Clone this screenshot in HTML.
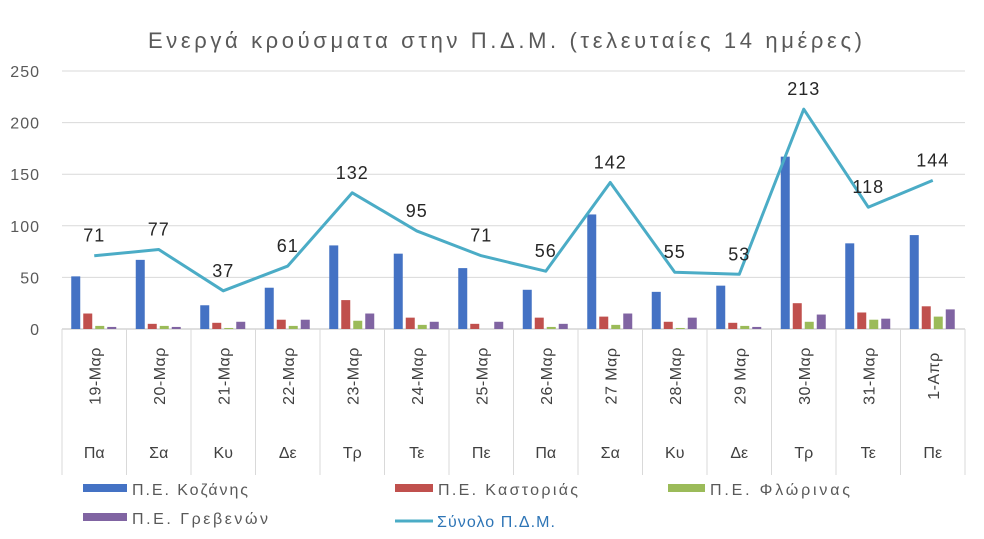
<!DOCTYPE html>
<html><head><meta charset="utf-8"><style>
body{margin:0;background:#fff;width:984px;height:534px;overflow:hidden;font-family:"Liberation Sans","DejaVu Sans",sans-serif;}
</style></head><body>
<svg id="chart" width="984" height="534" xmlns="http://www.w3.org/2000/svg">
<text x="148" y="48" font-size="22" fill="#595959" textLength="714" lengthAdjust="spacing">Ενεργά κρούσματα στην Π.Δ.Μ. (τελευταίες 14 ημέρες)</text>
<g id="grid"></g><g id="bars"></g><g id="line"></g><g id="xaxis"></g>
<g font-size="16" fill="#595959">
<rect x="83" y="484" width="44" height="8" fill="#4472c4"/>
<text x="132" y="495" textLength="116" lengthAdjust="spacing">Π.Ε. Κοζάνης</text>
<rect x="395" y="484" width="38" height="8" fill="#c0504d"/>
<text x="438" y="495" textLength="140" lengthAdjust="spacing">Π.Ε. Καστοριάς</text>
<rect x="668" y="484" width="37" height="8" fill="#9bbb59"/>
<text x="710" y="495" textLength="140" lengthAdjust="spacing">Π.Ε. Φλώρινας</text>
<rect x="83" y="513" width="44" height="8" fill="#8064a2"/>
<text x="132" y="524" textLength="136" lengthAdjust="spacing">Π.Ε. Γρεβενών</text>
<line x1="395" y1="521" x2="433" y2="521" stroke="#4bacc6" stroke-width="3"/>
<text x="437" y="527" fill="#2e75b6" textLength="118" lengthAdjust="spacing">Σύνολο Π.Δ.Μ.</text>
</g>
</svg>
<script>
const dates=["19-Μαρ","20-Μαρ","21-Μαρ","22-Μαρ","23-Μαρ","24-Μαρ","25-Μαρ","26-Μαρ","27 Μαρ","28-Μαρ","29 Μαρ","30-Μαρ","31-Μαρ","1-Απρ"];
const days=["Πα","Σα","Κυ","Δε","Τρ","Τε","Πε","Πα","Σα","Κυ","Δε","Τρ","Τε","Πε"];
const kozani=[51,67,23,40,81,73,59,38,111,36,42,167,83,91];
const kastoria=[15,5,6,9,28,11,5,11,12,7,6,25,16,22];
const florina=[3,3,1,3,8,4,0,2,4,1,3,7,9,12];
const grevena=[2,2,7,9,15,7,7,5,15,11,2,14,10,19];
const total=[71,77,37,61,132,95,71,56,142,55,53,213,118,144];
const yTicks=[0,50,100,150,200,250];
const NS="http://www.w3.org/2000/svg";
const x0=62,x1=965,y0=329,yTop=71,yMax=250;
const bw=(x1-x0)/dates.length;
function X(i){return x0+bw*(i+0.5);}
function Y(v){return y0-(y0-yTop)*v/yMax;}
function mk(tag,attrs,parent){const e=document.createElementNS(NS,tag);for(const k in attrs)e.setAttribute(k,attrs[k]);parent.appendChild(e);return e;}
const grid=document.getElementById('grid');
yTicks.forEach(t=>{
  const l=mk('line',{x1:x0,x2:x1,y1:Y(t),y2:Y(t),stroke:t===0?'#bfbfbf':'#d9d9d9','stroke-width':1},grid);
  
  
  const tx=mk('text',{x:40,y:Y(t)+6,'text-anchor':'end','font-size':16,'letter-spacing':1,fill:'#595959'},grid);
  tx.textContent=t;
  
  
});
const series=[[kozani,'#4472c4','kozani'],[kastoria,'#c0504d','kastoria'],[florina,'#9bbb59','florina'],[grevena,'#8064a2','grevena']];
const bars=document.getElementById('bars');
dates.forEach((d,i)=>{
  series.forEach((s,j)=>{
    const v=s[0][i];
    const r=mk('rect',{x:X(i)-23+j*12,y:Y(v),width:9,height:y0-Y(v),fill:s[1]},bars);
    
    
  });
});
const lg=document.getElementById('line');
const pl=mk('polyline',{points:total.map((v,i)=>X(i)+','+Y(v)).join(' '),fill:'none',stroke:'#4bacc6','stroke-width':3,'stroke-linejoin':'round'},lg);


total.forEach((v,i)=>{
  const t=mk('text',{x:X(i),y:Y(v)-14,'text-anchor':'middle','font-size':18,'letter-spacing':1,fill:'#262626'},lg);
  t.textContent=v;
  
  
});
const xa=document.getElementById('xaxis');
for(let i=0;i<=dates.length;i++){
  const l=mk('line',{x1:x0+bw*i,x2:x0+bw*i,y1:y0,y2:475,stroke:'#d9d9d9','stroke-width':1},xa);
  
  
}
dates.forEach((d,i)=>{
  const t=mk('text',{x:0,y:0,'text-anchor':'middle','font-size':16,'letter-spacing':0.5,fill:'#404040',transform:'translate('+(X(i)+6)+',376) rotate(-90)'},xa);
  t.textContent=d;
  
  
  const t2=mk('text',{x:X(i),y:458,'text-anchor':'middle','font-size':16,fill:'#404040'},xa);
  t2.textContent=days[i];
  
  
});
</script>
</body></html>
